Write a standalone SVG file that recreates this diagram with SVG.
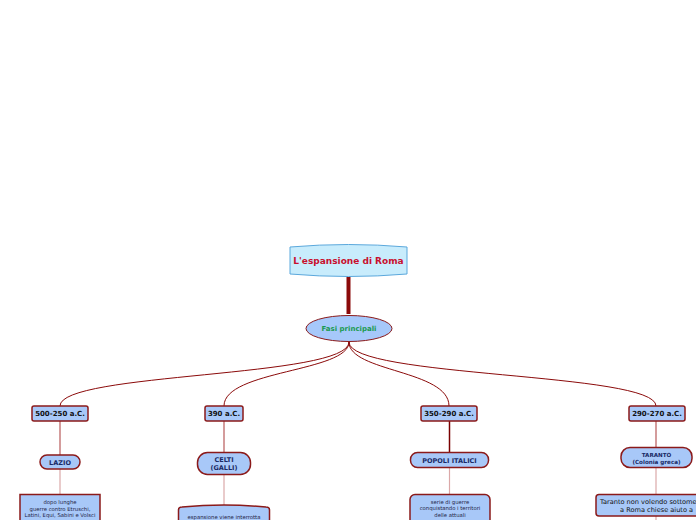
<svg xmlns="http://www.w3.org/2000/svg" width="696" height="520" viewBox="0 0 696 520">
<style>
.t{font-family:"DejaVu Sans","Liberation Sans",sans-serif;text-anchor:middle}
.b{font-weight:bold}
.box{fill:#a8c8f8;stroke:#8b1a1a;stroke-width:1.5}
.lvl2{font-size:7px;fill:#111}
.lvl3{font-size:6.5px;fill:#1a2a66}
.lvl4{font-size:5.3px;fill:#222244}
.c{fill:none;stroke:#8b0a0a;stroke-width:1}
.c2{fill:none;stroke:#b85a5a;stroke-width:1.2}
.c3{fill:none;stroke:#dba8a8;stroke-width:1.2}
</style>
<rect width="696" height="520" fill="#ffffff"/>
<g id="connectors">
<path d="M348.5,277 L348.5,314" stroke="#8b0a0a" stroke-width="4" fill="none"/>
<path class="c" d="M349,342 C349,378 60,372 60,406"/>
<path class="c" d="M349,342 C349,372 224,370 224,406"/>
<path class="c" d="M349,342 C349,372 449,370 449,406"/>
<path class="c" d="M349,342 C349,378 656,372 656,406"/>
<path class="c2" d="M60,421 L60,455"/>
<path class="c2" d="M224,421 L224,452"/>
<path d="M449.5,421 L449.5,452" fill="none" stroke="#7a0000" stroke-width="1.5"/>
<path class="c2" d="M656,421 L656,447"/>
<path class="c3" d="M60,469 L60,494"/>
<path class="c3" d="M224,475 L224,506"/>
<path class="c3" d="M449.5,468 L449.5,494"/>
<path class="c3" d="M656,468 L656,494"/>
<path class="c3" d="M656,516 L656,520"/>
</g>
<g id="root">
<path d="M290,247 Q348.5,242 407,247 L407,274 Q348.5,279 290,274 Z" fill="#c8ecfc" stroke="#5ba8dc" stroke-width="1"/>
<text class="t b" x="348.5" y="264" font-size="9" fill="#c8102e">L'espansione di Roma</text>
</g>
<g id="fasi">
<ellipse cx="349" cy="328.5" rx="43" ry="13" fill="#a6c8fa" stroke="#8b1a1a" stroke-width="1"/>
<text class="t b" x="349" y="331" font-size="7" fill="#1a9a50">Fasi principali</text>
</g>
<g id="p500">
<rect class="box" x="32" y="406" width="56" height="15" rx="2"/>
<text class="t b lvl2" x="60" y="416">500-250 a.C.</text>
</g>
<g id="p390">
<rect class="box" x="205" y="406" width="38" height="15" rx="2"/>
<text class="t b lvl2" x="224" y="416">390 a.C.</text>
</g>
<g id="p350">
<rect class="box" x="421" y="406" width="56" height="15" rx="2"/>
<text class="t b lvl2" x="449" y="416">350-290 a.C.</text>
</g>
<g id="p290">
<rect class="box" x="629" y="406" width="56" height="15" rx="2"/>
<text class="t b lvl2" x="657" y="416">290-270 a.C.</text>
</g>
<g id="lazio">
<rect class="box" x="40" y="455" width="40" height="14" rx="7" stroke-width="1"/>
<text class="t b lvl3" x="60" y="464.5">LAZIO</text>
</g>
<g id="celti">
<rect class="box" x="197.5" y="452.5" width="53" height="22" rx="10"/>
<text class="t b lvl3" x="224" y="462">CELTI</text>
<text class="t b lvl3" x="224" y="470">(GALLI)</text>
</g>
<g id="italici">
<rect class="box" x="410.5" y="452.5" width="78" height="15" rx="7"/>
<text class="t b lvl3" x="449.5" y="462.5">POPOLI ITALICI</text>
</g>
<g id="taranto">
<rect class="box" x="621" y="447.5" width="71" height="20" rx="9"/>
<text class="t b" x="656.5" y="456.5" font-size="5.6" fill="#1a2a66">TARANTO</text>
<text class="t b" x="656.5" y="463.5" font-size="5.6" fill="#1a2a66">(Colonia greca)</text>
</g>
<g id="lazio-det">
<rect class="box" x="20" y="494.5" width="80" height="32"/>
<text class="t lvl4" x="60" y="504">dopo lunghe</text>
<text class="t lvl4" x="60" y="510.5">guerre contro Etruschi,</text>
<text class="t lvl4" x="60" y="517">Latini, Equi, Sabini e Volsci</text>
</g>
<g id="celti-det">
<path class="box" d="M178.5,530 L178.5,510 Q178.5,507 182,507 Q224,503 266,507 Q269.5,507 269.5,510 L269.5,530 Z"/>
<text class="t lvl4" x="224" y="519" font-size="5.5">espansione viene interrotta</text>
</g>
<g id="italici-det">
<rect class="box" x="410" y="494.5" width="80" height="32" rx="5"/>
<text class="t lvl4" x="450" y="503.5">serie  di guerre</text>
<text class="t lvl4" x="450" y="510">conquistando i territori</text>
<text class="t lvl4" x="450" y="516.5">delle attuali</text>
</g>
<g id="taranto-det">
<rect class="box" x="596" y="494.5" width="124" height="21.5" rx="3"/>
<text x="600" y="504" font-family="DejaVu Sans, Liberation Sans, sans-serif" font-size="6.6" fill="#111">Taranto non volendo sottome</text>
<text x="620" y="512" font-family="DejaVu Sans, Liberation Sans, sans-serif" font-size="6.6" fill="#111">a Roma chiese aiuto a</text>
</g>
</svg>
